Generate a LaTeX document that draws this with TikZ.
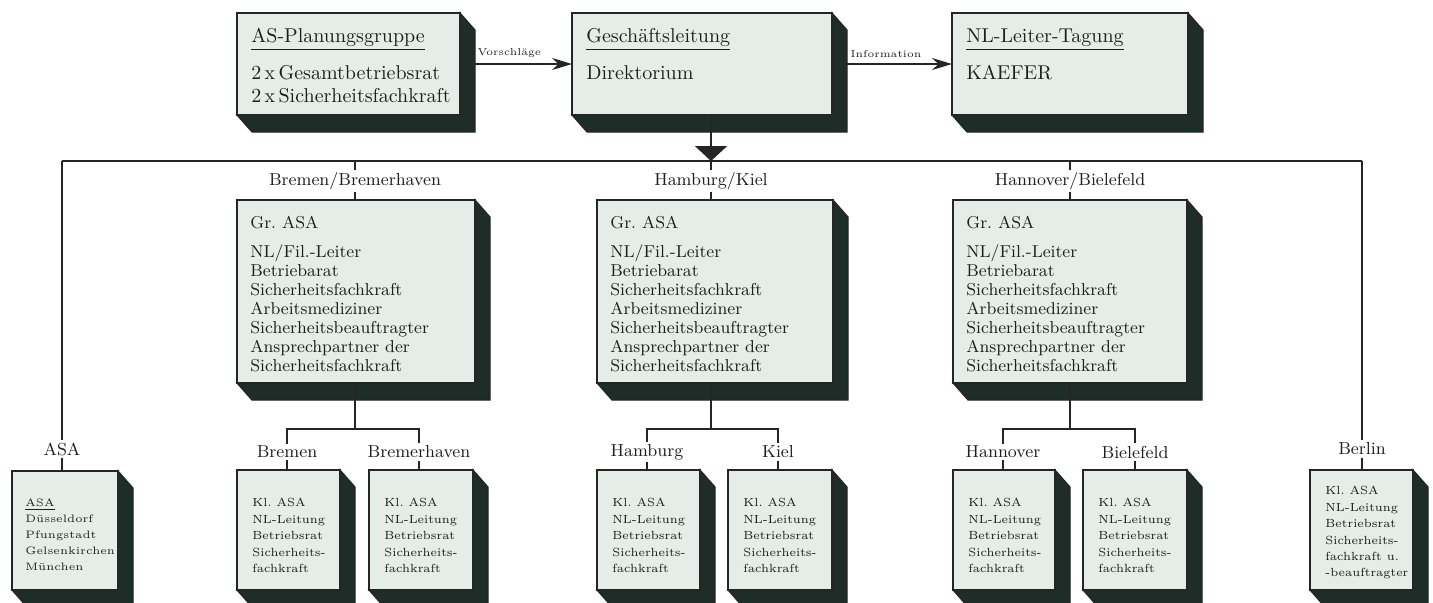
\documentclass[tikz,border=0pt]{standalone}
\usetikzlibrary{calc,fit,arrows.meta}
\definecolor{facec}{HTML}{E5EDE9}
\definecolor{shadc}{HTML}{1E2D28}
\definecolor{linec}{HTML}{252525}
\definecolor{txtc}{HTML}{1E1E1E}
\tikzset{
  x=0.5pt, y=-0.5pt,
  boxfront/.style={draw=linec, line width=1pt, fill=facec, inner sep=0pt, outer sep=0pt, rectangle},
  conn/.style={draw=linec, line width=1pt},
  toptext/.style={anchor=north west, inner sep=0pt, align=left, text=txtc, font=\fontsize{10}{11.5}\selectfont},
  midtext/.style={anchor=north west, inner sep=0pt, align=left, text=txtc, font=\fontsize{8.6}{9.5}\selectfont},
  smalltext/.style={anchor=north west, inner sep=0pt, align=left, text=txtc, font=\fontsize{5.9}{8.2}\selectfont},
  asatext/.style={smalltext, font=\fontsize{5.4}{8}\selectfont},
  lab/.style={fill=white, inner sep=1.2pt, text=txtc, font=\fontsize{8.7}{10}\selectfont},
  tinylab/.style={inner sep=1pt, text=txtc, font=\fontsize{5}{6}\selectfont},
}
\newcommand\shbox[5]{%
  \node[boxfront, fit={(#2,#3)(#4,#5)}] (#1) {};
  \filldraw[fill=shadc, draw=linec, line width=0.6pt] (#1.north east) -- ++(15,17)
    -- ($(#1.south east)+(15,17)$) -- ($(#1.south west)+(15,17)$)
    -- (#1.south west) -- (#1.south east) -- cycle;
}
\begin{document}
\begin{tikzpicture}
\useasboundingbox (0,0) rectangle (1433,602);
\clip (0,0) rectangle (1433,602);

% ---------- junction coordinates ----------
\coordinate (busL) at (62,161);
\coordinate (busR) at (1362,161);
\coordinate (hub)  at (711,161);
\coordinate (d1)   at (355,161);
\coordinate (d3)   at (1070,161);
\coordinate (j1) at (355,429);  \coordinate (l1) at (287,429);  \coordinate (r1) at (419,429);
\coordinate (j2) at (711,429);  \coordinate (l2) at (647,429);  \coordinate (r2) at (778,429);
\coordinate (j3) at (1070,429); \coordinate (l3) at (1003,429); \coordinate (r3) at (1135,429);

% ---------- top row ----------
\shbox{P}{237}{13}{460}{115}
\shbox{G}{572}{13}{832}{115}
\shbox{N}{952}{13}{1188}{115}

\node[toptext] at ($(P.north west)+(14,15)$) {\underline{AS-Planungsgruppe}\\[7pt]2\,x\,Gesamtbetriebsrat\\2\,x\,Sicherheitsfachkraft};
\node[toptext] at ($(G.north west)+(14,15)$) {\underline{Geschäftsleitung}\\[7pt]Direktorium};
\node[toptext] at ($(N.north west)+(14,15)$) {\underline{NL-Leiter-Tagung}\\[7pt]KAEFER};

\draw[conn, shorten <=7.5pt, -{Stealth[length=10pt,width=6pt]}] (P.east) -- node[tinylab, pos=0.44, above=1.5pt] {Vorschläge} (G.west);
\draw[conn, shorten <=7.5pt, -{Stealth[length=10pt,width=6pt]}] (G.east) -- node[tinylab, pos=0.45, above=1.5pt] {Information} (N.west);

% ---------- bus ----------
\draw[conn] (busL) -- (busR);
\draw[conn, -{Triangle[width=16pt,length=7.5pt]}] (hub |- G.south) -- (hub);

% ---------- middle row ----------
\shbox{B1}{237}{200}{475}{383}
\shbox{B2}{597}{200}{833}{383}
\shbox{B3}{953}{200}{1187}{383}

\draw[conn] (d1) -- (d1 |- B1.north);
\draw[conn] (hub) -- (hub |- B2.north);
\draw[conn] (d3) -- (d3 |- B3.north);

\node[lab] at (355,181) {Bremen/Bremerhaven};
\node[lab] at (711,181) {Hamburg/Kiel};
\node[lab] at (1070,181) {Hannover/Bielefeld};

\foreach \b in {B1,B2,B3}{
  \node[midtext] at ($(\b.north west)+(13,16)$) {Gr.\ ASA\\[5pt]NL/Fil.-Leiter\\Betriebarat\\Sicherheitsfachkraft\\Arbeitsmediziner\\Sicherheitsbeauftragter\\Ansprechpartner der\\Sicherheitsfachkraft};
}

% ---------- bottom row ----------
\shbox{A}{12}{471}{118}{590}
\shbox{Bre}{237}{470}{340}{590}
\shbox{Brh}{369}{470}{473}{590}
\shbox{Ham}{597}{470}{700}{590}
\shbox{Kie}{728}{470}{832}{590}
\shbox{Han}{953}{470}{1055}{590}
\shbox{Bie}{1083}{470}{1187}{590}
\shbox{Ber}{1310}{470}{1413}{590}

% branches
\draw[conn] (j1 |- B1.south) -- (j1);
\draw[conn] (l1 |- Bre.north) -- (l1) -- (r1) -- (r1 |- Brh.north);
\draw[conn] (j2 |- B2.south) -- (j2);
\draw[conn] (l2 |- Ham.north) -- (l2) -- (r2) -- (r2 |- Kie.north);
\draw[conn] (j3 |- B3.south) -- (j3);
\draw[conn] (l3 |- Han.north) -- (l3) -- (r3) -- (r3 |- Bie.north);
\draw[conn] (busL) -- (busL |- A.north);
\draw[conn] (busR) -- (busR |- Ber.north);

\node[lab] at (62,449) {ASA};
\node[lab] at (287,452) {Bremen};
\node[lab] at (419,452) {Bremerhaven};
\node[lab] at (647,452) {Hamburg};
\node[lab] at (778,452) {Kiel};
\node[lab] at (1003,452) {Hannover};
\node[lab] at (1135,452) {Bielefeld};
\node[lab] at (1362,449) {Berlin};

\node[asatext] at ($(A.north west)+(13,27)$) {\underline{ASA}\\Düsseldorf\\Pfungstadt\\Gelsenkirchen\\München};
\foreach \b in {Bre,Brh,Ham,Kie,Han,Bie}{
  \node[smalltext] at ($(\b.north west)+(15,28)$) {Kl.\ ASA\\NL-Leitung\\Betriebsrat\\Sicherheits-\\fachkraft};
}
\node[smalltext] at ($(Ber.north west)+(15,16)$) {Kl.\ ASA\\NL-Leitung\\Betriebsrat\\Sicherheits-\\fachkraft u.\\-beauftragter};
\end{tikzpicture}
\end{document}
